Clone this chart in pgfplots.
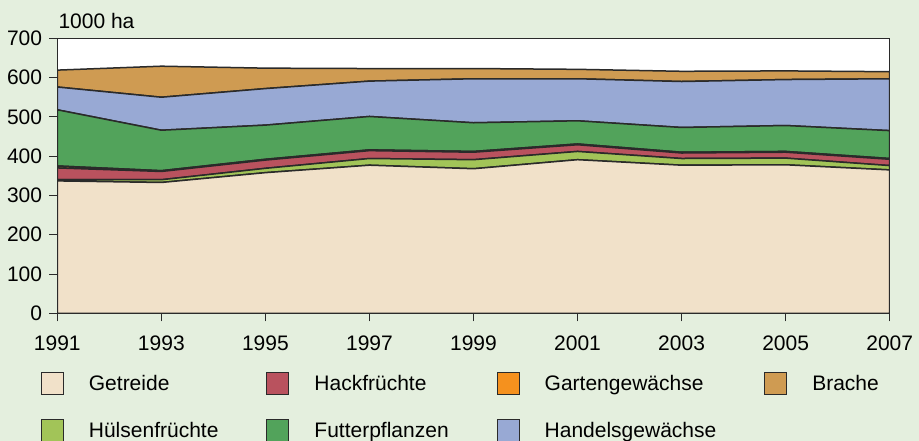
\documentclass[border=0pt]{standalone}
\usepackage{fontspec}
\setmainfont{Liberation Sans}
\usepackage{pgfplots}
\pgfplotsset{compat=1.18}
\definecolor{bg}{HTML}{E4EFDE}
\definecolor{cGetreide}{HTML}{F1E1C9}
\definecolor{cHuelsen}{HTML}{A2C458}
\definecolor{cHack}{HTML}{B9525E}
\definecolor{cGarten}{HTML}{F5911E}
\definecolor{cFutter}{HTML}{52A35B}
\definecolor{cHandel}{HTML}{98A9D4}
\definecolor{cBrache}{HTML}{CF9B52}
\definecolor{edge}{HTML}{2A2A2A}
\begin{document}
\fontsize{21}{25}\selectfont
\begin{tikzpicture}
\fill[bg] (0,0) rectangle (919pt,441pt);
\useasboundingbox (0,0) rectangle (919pt,441pt);
\begin{axis}[
  at={(57.3pt,127.7pt)}, anchor=south west,
  scale only axis, width=832.4pt, height=275pt,
  xmin=1991, xmax=2007, ymin=0, ymax=700,
  xtick={1991,1993,...,2007}, ytick={0,100,...,700},
  tick align=outside, tick pos=left,
  major tick length=8pt,
  tick style={edge, line width=1pt},
  axis background/.style={fill=white},
  axis line style={edge, line width=1.5pt},
  axis on top=true,
  /pgf/number format/assume math mode=true,
  /pgf/number format/1000 sep={},
  tick label style={font=\fontsize{21}{25}\selectfont},
  xticklabel style={yshift=-7pt},
  stack plots=y,
  every axis plot/.append style={draw=edge, line width=1.5pt},
  legend columns=4,
  legend style={at={(rel axis cs:0,0)}, anchor=north west, xshift=-19.6pt, yshift=-56.5pt,
    draw=none, fill=none, font=\fontsize{21}{25}\selectfont,
    nodes={inner sep=0pt}, cells={anchor=base west}, row sep=24pt,
    /tikz/every odd column/.append style={column sep=25pt},
    /tikz/every even column/.append style={column sep=48pt}},
  legend image code/.code={\draw[#1,draw=edge,line width=1pt] (0pt,-3.7pt) rectangle (22pt,18.3pt);},
]
\addplot[fill=cGetreide, forget plot] coordinates {(1991,337) (1993,333) (1995,358) (1997,377) (1999,368) (2001,391) (2003,377) (2005,378) (2007,365)} \closedcycle;
\addplot[fill=cHuelsen, forget plot] coordinates {(1991,3) (1993,7) (1995,11) (1997,17) (1999,23) (2001,21) (2003,17) (2005,17) (2007,11)} \closedcycle;
\addplot[fill=cHack, forget plot] coordinates {(1991,30) (1993,21) (1995,21) (1997,20) (1999,19) (2001,17) (2003,14) (2005,15) (2007,16)} \closedcycle;
\addplot[fill=cGarten, forget plot] coordinates {(1991,5) (1993,2) (1995,2) (1997,2) (1999,2) (2001,2) (2003,2) (2005,2) (2007,2)} \closedcycle;
\addplot[fill=cFutter, forget plot] coordinates {(1991,143) (1993,103) (1995,87) (1997,85) (1999,73) (2001,59) (2003,63) (2005,66) (2007,71)} \closedcycle;
\addplot[fill=cHandel, forget plot] coordinates {(1991,58) (1993,84) (1995,93) (1997,90) (1999,112) (2001,107) (2003,117) (2005,117) (2007,132)} \closedcycle;
\addplot[fill=cBrache, forget plot] coordinates {(1991,43) (1993,79) (1995,52) (1997,32) (1999,26) (2001,24) (2003,26) (2005,22) (2007,18)} \closedcycle;
\addlegendimage{fill=cGetreide}\addlegendentry{Getreide}
\addlegendimage{fill=cHack}\addlegendentry{Hackfr\"uchte}
\addlegendimage{fill=cGarten}\addlegendentry{Gartengew\"achse}
\addlegendimage{fill=cBrache}\addlegendentry{Brache}
\addlegendimage{fill=cHuelsen}\addlegendentry{H\"ulsenfr\"uchte}
\addlegendimage{fill=cFutter}\addlegendentry{Futterpflanzen}
\addlegendimage{fill=cHandel}\addlegendentry{Handelsgew\"achse}
\end{axis}
\node[anchor=base west, inner sep=0pt] at (58.3pt,412pt) {1000 ha};
\end{tikzpicture}
\end{document}
